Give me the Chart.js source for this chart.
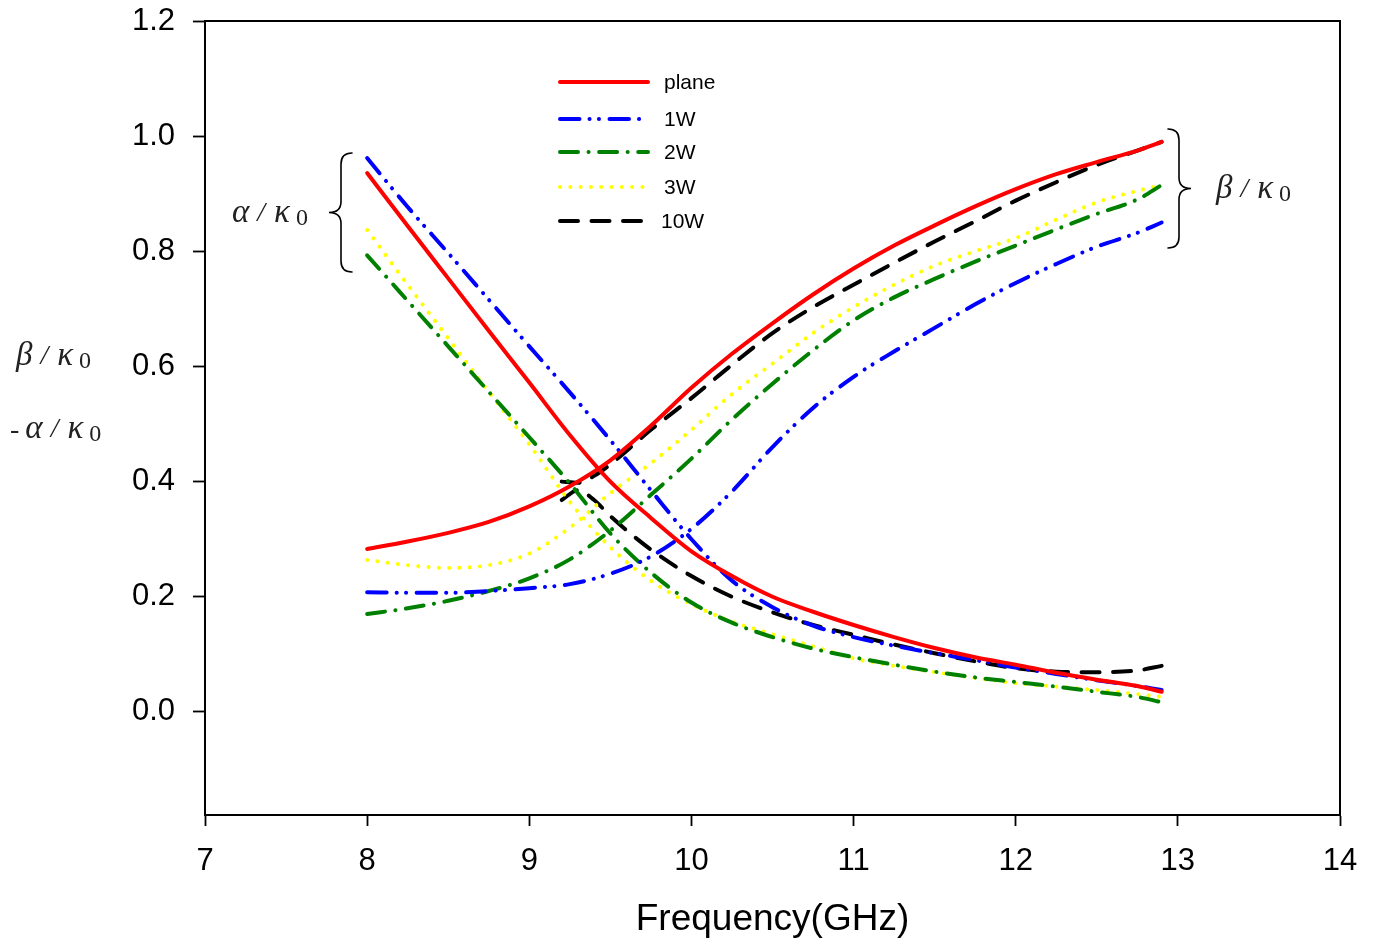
<!DOCTYPE html>
<html lang="en">
<head>
<meta charset="UTF-8">
<title>Normalized propagation constant vs frequency</title>
<script src="https://cdn.jsdelivr.net/npm/chart.js@4.4.0/dist/chart.umd.min.js"></script>
<style>
  html, body { margin: 0; padding: 0; background: #fff; }
  #wrap { width: 1377px; height: 941px; position: relative; }
</style>
</head>
<body>
<div id="wrap"><canvas id="chart"></canvas></div>
<script>
// frequency samples (GHz)
const freq = [8, 8.25, 8.5, 8.75, 9, 9.25, 9.5, 9.75, 10, 10.25, 10.5, 10.75, 11, 11.25, 11.5, 11.75, 12, 12.25, 12.5, 12.75, 12.9];
const freq10W = [9.2, 9.3, 9.4, 9.5, 9.75, 10, 10.25, 10.5, 10.75, 11, 11.25, 11.5, 11.75, 12, 12.25, 12.5, 12.75, 12.9];

// beta/k0 (rising) and alpha/k0 (falling)
const betaPlane  = [0.283, 0.296, 0.311, 0.330, 0.357, 0.392, 0.437, 0.497, 0.563, 0.622, 0.675, 0.725, 0.770, 0.810, 0.845, 0.878, 0.908, 0.934, 0.955, 0.975, 0.990];
const alphaPlane = [0.936, 0.844, 0.753, 0.662, 0.572, 0.481, 0.400, 0.337, 0.279, 0.236, 0.200, 0.174, 0.151, 0.130, 0.111, 0.095, 0.082, 0.068, 0.056, 0.045, 0.035];
const beta1W  = [0.208, 0.207, 0.207, 0.210, 0.215, 0.222, 0.240, 0.270, 0.318, 0.383, 0.460, 0.528, 0.582, 0.626, 0.667, 0.708, 0.745, 0.778, 0.808, 0.832, 0.850];
const alpha1W = [0.962, 0.877, 0.797, 0.716, 0.635, 0.555, 0.472, 0.385, 0.300, 0.228, 0.182, 0.150, 0.130, 0.115, 0.102, 0.090, 0.077, 0.066, 0.055, 0.045, 0.038];
const beta2W  = [0.170, 0.180, 0.193, 0.210, 0.232, 0.265, 0.315, 0.377, 0.440, 0.508, 0.570, 0.628, 0.680, 0.720, 0.752, 0.782, 0.810, 0.838, 0.865, 0.890, 0.915];
const alpha2W = [0.793, 0.714, 0.635, 0.556, 0.477, 0.397, 0.310, 0.242, 0.190, 0.155, 0.130, 0.110, 0.095, 0.082, 0.070, 0.060, 0.052, 0.044, 0.035, 0.026, 0.017];
const beta3W  = [0.264, 0.255, 0.250, 0.255, 0.275, 0.320, 0.380, 0.432, 0.490, 0.552, 0.605, 0.658, 0.703, 0.742, 0.775, 0.800, 0.823, 0.855, 0.885, 0.905, 0.915];
const alpha3W = [0.837, 0.742, 0.649, 0.556, 0.465, 0.365, 0.286, 0.228, 0.187, 0.157, 0.135, 0.114, 0.093, 0.080, 0.069, 0.059, 0.050, 0.044, 0.038, 0.031, 0.026];
const beta10W  = [0.400, 0.398, 0.410, 0.430, 0.490, 0.545, 0.603, 0.658, 0.703, 0.742, 0.780, 0.817, 0.852, 0.888, 0.920, 0.950, 0.975, 0.990];
const alpha10W = [0.368, 0.385, 0.368, 0.340, 0.282, 0.236, 0.200, 0.173, 0.151, 0.134, 0.117, 0.102, 0.088, 0.076, 0.070, 0.069, 0.072, 0.080];

const xTicks = [7, 8, 9, 10, 11, 12, 13, 14];
const yTicks = [0, 0.2, 0.4, 0.6, 0.8, 1.0, 1.2];

const seriesNames  = ['plane', '1W', '2W', '3W', '10W'];
const seriesColors = ['#ff0000', '#0000ff', '#008000', '#ffff00', '#000000'];
const seriesDash   = [[], [19.5, 10, 0.1, 9.3, 0.1, 10.5], [18, 10.5, 0.1, 10.5], [0.1, 10.2], [18, 13.5]];

const seriesX = [freq, freq, freq, freq, freq10W];
const betas  = [betaPlane, beta1W, beta2W, beta3W, beta10W];
const alphas = [alphaPlane, alpha1W, alpha2W, alpha3W, alpha10W];

function pts(xs, ys) { return xs.map((x, i) => ({ x: x, y: ys[i] })); }

const datasets = [];
seriesNames.forEach((name, i) => {
  [betas[i], alphas[i]].forEach(vals => {
    datasets.push({
      label: name,
      data: pts(seriesX[i], vals),
      borderColor: seriesColors[i],
      borderWidth: 4,
      borderDash: seriesDash[i],
      borderCapStyle: 'round',
      borderJoinStyle: 'round',
      pointRadius: 0,
      fill: false,
      cubicInterpolationMode: 'monotone'
    });
  });
});

// draw a "{" (dir=-1, tip left) or "}" (dir=1, tip right)
function brace(ctx, xEdge, yTop, yBot, dir) {
  const xm = xEdge + dir * 11, x0 = xEdge + dir * 23, ym = (yTop + yBot) / 2, r = 11;
  ctx.beginPath();
  ctx.moveTo(xEdge, yTop);
  ctx.quadraticCurveTo(xm, yTop, xm, yTop + r);
  ctx.lineTo(xm, ym - r);
  ctx.quadraticCurveTo(xm, ym, x0, ym);
  ctx.quadraticCurveTo(xm, ym, xm, ym + r);
  ctx.lineTo(xm, yBot - r);
  ctx.quadraticCurveTo(xm, yBot, xEdge, yBot);
  ctx.stroke();
}

// "g / κ 0" style label; x = left edge, y = baseline
function ratio(ctx, x, y, greek, prefix) {
  ctx.fillStyle = '#222';
  ctx.textAlign = 'left';
  ctx.textBaseline = 'alphabetic';
  let cx = x;
  if (prefix) {
    ctx.font = '28px "Liberation Serif"';
    ctx.fillText(prefix, cx, y);
    cx += ctx.measureText(prefix).width + 6;
  }
  ctx.font = 'italic 33px "Liberation Serif"';
  ctx.fillText(greek, cx, y);
  cx += ctx.measureText(greek).width + 8;
  ctx.font = 'italic 28px "Liberation Serif"';
  ctx.fillText('/', cx, y - 1);
  cx += ctx.measureText('/').width + 9;
  ctx.font = 'italic 33px "Liberation Serif"';
  ctx.fillText('κ', cx, y);
  cx += ctx.measureText('κ').width + 6;
  ctx.font = '24px "Liberation Serif"';
  ctx.fillText('0', cx, y + 3);
}

const extras = {
  id: 'extras',
  afterDraw(chart) {
    const ctx = chart.ctx, a = chart.chartArea;
    ctx.save();
    // frame
    ctx.strokeStyle = '#000';
    ctx.lineWidth = 2;
    ctx.strokeRect(a.left, a.top, a.right - a.left, a.bottom - a.top);

    // legend
    const ly = [82, 119, 152, 187, 221];
    seriesNames.forEach((name, i) => {
      ctx.beginPath();
      ctx.strokeStyle = seriesColors[i];
      ctx.lineWidth = 4;
      ctx.lineCap = 'round';
      ctx.setLineDash(seriesDash[i]);
      ctx.moveTo(560, ly[i]);
      ctx.lineTo(648, ly[i]);
      ctx.stroke();
      ctx.setLineDash([]);
      ctx.fillStyle = '#000';
      ctx.font = '21px "Liberation Sans"';
      ctx.textAlign = 'left';
      ctx.textBaseline = 'middle';
      ctx.fillText(name, name === '10W' ? 661 : 664, ly[i] + 1);
    });

    // braces and labels
    ctx.strokeStyle = '#000';
    ctx.lineWidth = 1.6;
    brace(ctx, 352, 153, 272, -1);
    brace(ctx, 1168, 129, 248, 1);
    ratio(ctx, 232, 222, 'α');
    ratio(ctx, 1216, 198, 'β');
    ratio(ctx, 16, 365, 'β');
    ratio(ctx, 10, 438, 'α', '-');

    // x title
    ctx.fillStyle = '#000';
    ctx.font = '37px "Liberation Sans"';
    ctx.textAlign = 'center';
    ctx.textBaseline = 'alphabetic';
    ctx.fillText('Frequency(GHz)', (a.left + a.right) / 2, 930);
    ctx.restore();
  }
};

new Chart(document.getElementById('chart'), {
  type: 'line',
  data: { datasets: datasets },
  options: {
    responsive: true,
    maintainAspectRatio: false,
    animation: false,
    events: [],
    layout: { padding: { top: 21, right: 37, left: 0, bottom: 0 } },
    plugins: { legend: { display: false }, tooltip: { enabled: false } },
    scales: {
      x: {
        type: 'linear',
        min: 7, max: 14,
        afterBuildTicks: s => { s.ticks = xTicks.map(v => ({ value: v })); },
        afterFit: s => { s.height = 126; s.paddingLeft = 0; s.paddingRight = 0; },
        grid: { drawOnChartArea: false, drawTicks: true, tickLength: 11, tickColor: '#000', tickWidth: 1.8 },
        border: { display: true, color: '#000', width: 2 },
        ticks: { color: '#000', padding: 17, maxRotation: 0, font: { family: 'Liberation Sans', size: 31 } }
      },
      y: {
        type: 'linear',
        min: -0.179, max: 1.2,
        afterBuildTicks: s => { s.ticks = yTicks.map(v => ({ value: v })); },
        afterFit: s => { s.width = 205; s.paddingTop = 0; s.paddingBottom = 0; },
        grid: { drawOnChartArea: false, drawTicks: true, tickLength: 12, tickColor: '#000', tickWidth: 1.8 },
        border: { display: true, color: '#000', width: 2 },
        ticks: { color: '#000', padding: 18, font: { family: 'Liberation Sans', size: 31 }, callback: v => v.toFixed(1) }
      }
    }
  },
  plugins: [extras]
});
</script>
</body>
</html>
